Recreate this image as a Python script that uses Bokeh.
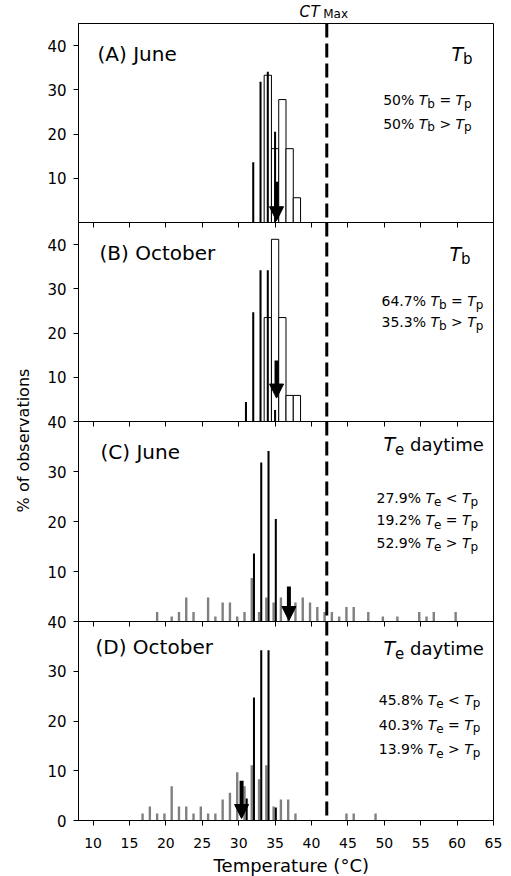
import math
from bokeh.plotting import figure
from bokeh.layouts import column, row
from bokeh.models import (Range1d, FixedTicker, Span, Label, Arrow, NormalHead,
                          ColumnDataSource, CustomJSTickFormatter)
from bokeh.transform import dodge
from bokeh.embed import file_html
from bokeh.resources import INLINE

FONT = "DejaVu Sans"

# ---------------- data ----------------
x_ticks = [10, 15, 20, 25, 30, 35, 40, 45, 50, 55, 60, 65]
ct_max = 42.1

panel_names = ["(A) June", "(B) October", "(C) June", "(D) October"]
y_max = [45, 45, 40, 40]
y_ticks = [[10, 20, 30, 40], [10, 20, 30, 40], [10, 20, 30, 40], [0, 10, 20, 30, 40]]

# preferred temperature (Tp) distributions - black bars
tp_june_t = [32, 33, 34, 35]
tp_june_v = [13.6, 31.8, 34.1, 20.5]
tp_oct_t = [31, 32, 33, 34, 35]
tp_oct_v = [4.4, 24.7, 34.2, 34.2, 2.6]

# body temperature (Tb) distributions - open bars
tb_june_t = [34, 35, 36, 37, 38]
tb_june_v = [33.3, 16.7, 27.8, 16.7, 5.6]
tb_oct_t = [34, 35, 36, 37, 38]
tb_oct_v = [23.5, 41.2, 23.5, 5.9, 5.9]

# operative temperature (Te daytime) distributions - grey bars
te_june_t = [19, 21, 22, 23, 24, 26, 27, 28, 29, 30, 31, 32, 33, 34, 35, 36, 37, 38, 39,
             40, 41, 42, 43, 44, 45, 46, 48, 50, 52, 55, 56, 57, 60]
te_june_v = [1.9, 1.0, 1.9, 4.8, 1.9, 4.8, 1.0, 3.8, 3.8, 1.0, 1.9, 8.7, 1.9, 4.8, 3.8, 4.8, 6.7, 3.8, 4.8,
             3.8, 2.9, 1.9, 1.9, 1.0, 2.9, 2.9, 1.9, 1.0, 1.0, 1.9, 1.0, 1.9, 1.9]
te_oct_t = [17, 18, 19, 20, 21, 22, 23, 24, 25, 26, 27, 28, 29, 30, 31, 32, 33, 34, 35, 36, 37, 38,
            45, 46, 49]
te_oct_v = [1.4, 2.8, 1.4, 1.4, 6.9, 2.8, 2.8, 1.4, 2.8, 1.4, 1.4, 4.2, 5.6, 9.7, 6.9, 11.1, 8.3, 11.1,
            2.8, 4.2, 4.2, 1.4, 1.4, 1.4, 1.4]

# mean arrows
arrow_x = [35.2, 35.2, 36.9, 30.4]
arrow_from = [9.2, 13.8, 7.0, 8.0]
arrow_to = [0.4, 5.3, 0.2, 0.4]

# statistics text
stats = [
    [("50%", "b", "="), ("50%", "b", ">")],
    [("64.7%", "b", "="), ("35.3%", "b", ">")],
    [("27.9%", "e", "<"), ("19.2%", "e", "="), ("52.9%", "e", ">")],
    [("45.8%", "e", "<"), ("40.3%", "e", "="), ("13.9%", "e", ">")],
]
headers = [("T", "b", ""), ("T", "b", ""), ("T", "e", "daytime"), ("T", "e", "daytime")]
x_title = "Temperature (°C)"
y_title = "% of observations"

# ---------------- layout constants ----------------
HEAD_H, HEAD_OVER = 50, 27        # header strip: 23 px visible + overlap
FOOT_H = 50                       # footer strip overlapping bottom border of D
FH = [199, 199, 200, 199]         # frame heights
TOPB = [0, 12, 12, 12]
BOTB = [12, 12, 12, 56]
PW = 471
LEFTB = 38
RIGHTB = 18
BASE_FIX = 0.36                   # label baseline correction (fraction of font size)

name_pos = [(19, 161.5), (21, 161), (22, 162.7), (17, 166.7)]
head_pos = [(373, 162), (371, 161), (305, 171), (305, 166)]
stat_left = [304.7, 303, 298, 300.3]
stat_base = [[117, 93.7], [115, 94.3], [118.3, 96, 73.3], [115.7, 90.7, 66]]

W = {' ': 0.318, '%': 0.950, '(': 0.390, ')': 0.390, '.': 0.318, '<': 0.838, '=': 0.838,
     '>': 0.838, 'A': 0.684, 'B': 0.686, 'C': 0.698, 'D': 0.770, 'J': 0.295, 'M': 0.863,
     'O': 0.787, 'T': 0.611, 'a': 0.613, 'b': 0.635, 'c': 0.550, 'd': 0.635, 'e': 0.615,
     'i': 0.278, 'm': 0.974, 'n': 0.634, 'o': 0.612, 'p': 0.635, 'r': 0.411, 't': 0.392,
     'u': 0.634, 'x': 0.592, 'y': 0.592}
for d in "0123456789":
    W[d] = 0.636


def tw(s, size):
    return sum(W.get(c, 0.6) for c in s) * size


def rich(p, x, y, pieces):
    for txt, size, style, dy in pieces:
        lead = len(txt) - len(txt.lstrip(' '))
        core = txt.strip(' ')
        if core:
            p.add_layout(Label(x=x + tw(' ' * lead, size), y=y - dy + BASE_FIX * size,
                               x_units="screen", y_units="screen", text=core,
                               text_font=FONT, text_font_size=f"{size}px",
                               text_font_style=style, text_color="black",
                               text_align="left", text_baseline="alphabetic"))
        x += tw(txt, size)


def bars(p, t, v, offset, width, fill, line=None):
    src = ColumnDataSource(dict(t=t, v=v))
    p.vbar(x=dodge('t', offset), top='v', bottom=0, width=width, source=src,
           fill_color=fill, line_color=line, line_width=1)


def strip(height, margin):
    s = figure(width=PW, height=height, x_range=Range1d(8, 65), y_range=Range1d(0, 1),
               x_axis_type=None, y_axis_type=None, output_backend="svg",
               toolbar_location=None, min_border_left=LEFTB, min_border_right=RIGHTB,
               min_border_top=0, min_border_bottom=0, outline_line_color=None,
               background_fill_color=None, border_fill_color=None, margin=margin)
    s.grid.visible = False
    return s


# header strip holding the CTmax label
head = strip(HEAD_H, (0, 0, -HEAD_OVER, 0))
rich(head, 221, HEAD_H - 16.7, [("C", 15, "italic", 0)])
rich(head, 232, HEAD_H - 16.7, [("T", 15, "italic", 0)])
rich(head, 244.7, HEAD_H - 18.3, [("Max", 12, "normal", 0)])

panels = [head]
for i in range(4):
    p = figure(width=PW, height=TOPB[i] + FH[i] + BOTB[i],
               x_range=Range1d(8, 65), y_range=Range1d(0, y_max[i]),
               output_backend="svg", toolbar_location=None,
               min_border_left=LEFTB, min_border_right=RIGHTB,
               min_border_top=TOPB[i], min_border_bottom=BOTB[i],
               background_fill_color=None, border_fill_color=None,
               outline_line_color="black", outline_line_width=1,
               margin=(-TOPB[i], 0, -BOTB[i] if i < 3 else 0, 0))
    p.grid.visible = False

    xa = p.xaxis[0]
    xa.ticker = FixedTicker(ticks=x_ticks)
    xa.major_tick_out = 5
    xa.major_tick_in = 0
    xa.minor_tick_out = 0
    xa.minor_tick_in = 0
    xa.axis_line_color = "black"
    xa.major_tick_line_color = "black"
    if i < 3:
        xa.formatter = CustomJSTickFormatter(code="return ''")
        xa.major_label_standoff = 0
    else:
        xa.major_label_text_font = FONT
        xa.major_label_text_font_size = "14px"
        xa.major_label_text_color = "black"
        xa.major_label_standoff = 12

    ya = p.yaxis[0]
    ya.ticker = FixedTicker(ticks=y_ticks[i])
    ya.major_tick_out = 5
    ya.major_tick_in = 0
    ya.minor_tick_out = 0
    ya.minor_tick_in = 0
    ya.axis_line_color = "black"
    ya.major_label_text_font = FONT
    ya.major_label_text_font_size = "15px"
    ya.major_label_text_color = "black"
    ya.major_label_standoff = 7

    if i == 0:
        bars(p, tb_june_t, tb_june_v, 0.0, 1.0, "white", "black")
        bars(p, tp_june_t, tp_june_v, 0.0, 0.28, "black")
    elif i == 1:
        bars(p, tb_oct_t, tb_oct_v, 0.0, 1.0, "white", "black")
        bars(p, tp_oct_t, tp_oct_v, 0.0, 0.28, "black")
    elif i == 2:
        bars(p, te_june_t, te_june_v, -0.2, 0.33, "#808080")
        bars(p, tp_june_t, tp_june_v, 0.1, 0.28, "black")
    else:
        bars(p, te_oct_t, te_oct_v, -0.2, 0.33, "#808080")
        bars(p, tp_oct_t, tp_oct_v, 0.1, 0.28, "black")

    p.add_layout(Arrow(end=NormalHead(size=14, fill_color="black", line_color="black", line_width=1),
                       x_start=arrow_x[i], y_start=arrow_from[i],
                       x_end=arrow_x[i], y_end=arrow_to[i],
                       line_width=4, line_color="black"))

    p.add_layout(Span(location=ct_max, dimension="height", line_color="black",
                      line_width=3, line_dash="14 6"))

    # panel name
    nx, ny = name_pos[i]
    rich(p, nx, ny, [(panel_names[i], 20, "normal", 0)])

    # header (T_b / T_e daytime)
    hx, hy = head_pos[i]
    big, sub, rest = headers[i]
    pieces = [(big, 19, "italic", 0), (sub, 15, "normal", 4)]
    if rest:
        pieces.append((" " + rest, 18, "normal", 0))
    rich(p, hx, hy, pieces)

    # statistics lines
    for (pct, sub, op), by in zip(stats[i], stat_base[i]):
        rich(p, stat_left[i], by, [
            (pct + " ", 14, "normal", 0),
            ("T", 14, "italic", 0),
            (sub, 12, "normal", 3),
            (" " + op + " ", 14, "normal", 0),
            ("T", 14, "italic", 0),
            ("p", 12, "normal", 3),
        ])

    panels.append(p)

# footer strip holding the x axis title
foot = strip(FOOT_H, (-FOOT_H, 0, 0, 0))
foot.add_layout(Label(x=212.8, y=FOOT_H - (871.7 - (876 - FOOT_H)) + BASE_FIX * 18,
                      x_units="screen", y_units="screen", text=x_title, text_font=FONT,
                      text_font_size="18px", text_color="black", text_align="center",
                      text_baseline="alphabetic"))
panels.append(foot)

# y axis title column
lab = figure(width=40, height=876, x_range=Range1d(0, 1), y_range=Range1d(0, 1),
             x_axis_type=None, y_axis_type=None, output_backend="svg",
             toolbar_location=None, min_border=0, outline_line_color=None,
             background_fill_color=None, border_fill_color=None)
lab.grid.visible = False
lab.add_layout(Label(x=29 - BASE_FIX * 16, y=876 - 440, x_units="screen", y_units="screen",
                     text=y_title, angle=math.pi / 2,
                     text_font=FONT, text_font_size="16px", text_color="black",
                     text_align="center", text_baseline="alphabetic"))

layout = row(lab, column(*panels))

open("out.html", "w").write(file_html(layout, INLINE))
